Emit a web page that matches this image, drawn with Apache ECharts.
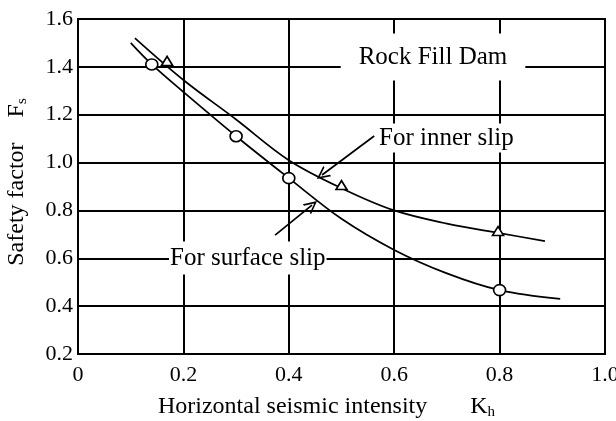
<!DOCTYPE html>
<html>
<head>
<meta charset="utf-8">
<script src="https://cdn.jsdelivr.net/npm/echarts@6/dist/echarts.min.js"></script>
<style>
    html, body { margin: 0; padding: 0; background: #fff; }
    #chart { width: 616px; height: 421px; }
</style>
</head>
<body>
<div id="chart"></div>
<script>
// curves, [Kh, Fs]
var surfaceCurve = [[0.10, 1.50], [0.14, 1.41], [0.20, 1.295], [0.30, 1.11], [0.40, 0.935],
    [0.50, 0.765], [0.60, 0.635], [0.70, 0.537], [0.80, 0.467], [0.915, 0.43]];
var innerCurve = [[0.108, 1.52], [0.20, 1.345], [0.30, 1.18], [0.40, 1.01], [0.50, 0.893],
    [0.60, 0.80], [0.70, 0.745], [0.80, 0.705], [0.886, 0.672]];

// measured points
var surfacePoints = [[0.14, 1.41], [0.30, 1.11], [0.40, 0.935], [0.80, 0.467]];
var innerPoints = [[0.169, 1.425], [0.50, 0.906], [0.797, 0.714]];

// leader arrows [from, to]
var innerArrow = [[0.562, 1.111], [0.463, 0.948]];
var surfaceArrow = [[0.374, 0.697], [0.444, 0.822]];

var xTicks = [0, 0.2, 0.4, 0.6, 0.8, 1.0];
var yTicks = [0.2, 0.4, 0.6, 0.8, 1.0, 1.2, 1.4, 1.6];

var FONT = "'Liberation Serif','Times New Roman',serif";
var ARROW = 'path://M0,0L6,12L4.3,12L0,3.4L-4.3,12L-6,12Z';

var chart = echarts.init(document.getElementById('chart'));

function arrowLine(pts) {
    return [[{ coord: pts[0] }, { coord: pts[1] }]];
}

var option = {
    animation: false,
    textStyle: { fontFamily: FONT, color: '#000' },
    grid: {
        left: 78,
        right: 11,
        top: 19,
        bottom: 67,
        outerBoundsMode: 'none',
        containLabel: false,
        show: true,
        borderColor: '#000',
        borderWidth: 2
    },
    xAxis: {
        type: 'value',
        min: xTicks[0],
        max: xTicks[xTicks.length - 1],
        interval: 0.2,
        name: '{a|Horizontal seismic intensity}{g|}{a|K}{b|h}',
        nameLocation: 'middle',
        nameGap: 40,
        nameTextStyle: {
            padding: [0, 30, 0, 0],
            rich: {
                a: { fontFamily: FONT, fontSize: 24, color: '#000', lineHeight: 26 },
                g: { width: 43 },
                b: { fontFamily: FONT, fontSize: 15, color: '#000', lineHeight: 15, verticalAlign: 'bottom' }
            }
        },
        axisLine: { lineStyle: { color: '#000', width: 2 } },
        axisTick: { show: false },
        axisLabel: {
            fontFamily: FONT,
            fontSize: 22,
            color: '#000',
            margin: 10,
            formatter: function (v) {
                return v === 0 ? '0' : v.toFixed(1);
            }
        },
        splitLine: { lineStyle: { color: '#000', width: 2 } }
    },
    yAxis: {
        type: 'value',
        min: yTicks[0],
        max: yTicks[yTicks.length - 1],
        interval: 0.2,
        name: '{a|Safety factor}{g|}{a|F}{b|s}',
        nameLocation: 'middle',
        nameRotate: 90,
        nameGap: 48,
        nameTextStyle: {
            padding: [0, 0, 0, 9],
            rich: {
                a: { fontFamily: FONT, fontSize: 24, color: '#000', lineHeight: 26 },
                g: { width: 25 },
                b: { fontFamily: FONT, fontSize: 15, color: '#000', lineHeight: 15, verticalAlign: 'bottom' }
            }
        },
        axisLine: { lineStyle: { color: '#000', width: 2 } },
        axisTick: { show: false },
        axisLabel: {
            fontFamily: FONT,
            fontSize: 22,
            color: '#000',
            margin: 5,
            formatter: function (v) {
                return v.toFixed(1);
            }
        },
        splitLine: { lineStyle: { color: '#000', width: 2 } }
    },
    series: [
        {
            name: 'For surface slip',
            type: 'line',
            data: surfaceCurve,
            smooth: 0.35,
            showSymbol: false,
            lineStyle: { color: '#000', width: 1.7 },
            markLine: {
                silent: true,
                symbol: ['none', ARROW],
                symbolSize: [13, 13],
                label: { show: false },
                lineStyle: { color: '#000', width: 1.7, type: 'solid' },
                data: arrowLine(surfaceArrow)
            }
        },
        {
            name: 'For inner slip',
            type: 'line',
            data: innerCurve,
            smooth: 0.35,
            showSymbol: false,
            lineStyle: { color: '#000', width: 1.7 },
            markLine: {
                silent: true,
                symbol: ['none', ARROW],
                symbolSize: [13, 13],
                label: { show: false },
                lineStyle: { color: '#000', width: 1.7, type: 'solid' },
                data: arrowLine(innerArrow)
            }
        },
        {
            name: 'surface points',
            type: 'scatter',
            data: surfacePoints,
            symbol: 'circle',
            symbolSize: [12, 11],
            itemStyle: { color: '#fff', borderColor: '#000', borderWidth: 1.6, opacity: 1 },
            z: 5
        },
        {
            name: 'inner points',
            type: 'scatter',
            data: innerPoints,
            symbol: 'triangle',
            symbolSize: [11, 9],
            itemStyle: { color: '#fff', borderColor: '#000', borderWidth: 1.6, opacity: 1 },
            z: 5
        }
    ],
    graphic: [
        {
            type: 'text',
            z: 100,
            x: 433,
            y: 57,
            style: {
                text: 'Rock Fill Dam',
                font: '25px ' + FONT,
                fill: '#000',
                align: 'center',
                verticalAlign: 'middle',
                backgroundColor: '#fff',
                padding: [11, 18]
            }
        },
        {
            type: 'text',
            z: 100,
            x: 377,
            y: 138,
            style: {
                text: 'For inner slip',
                font: '25px ' + FONT,
                fill: '#000',
                align: 'left',
                verticalAlign: 'middle',
                backgroundColor: '#fff',
                padding: [2, 2]
            }
        },
        {
            type: 'text',
            z: 100,
            x: 169,
            y: 258,
            style: {
                text: 'For surface slip',
                font: '25px ' + FONT,
                fill: '#000',
                align: 'left',
                verticalAlign: 'middle',
                backgroundColor: '#fff',
                padding: [4, 1]
            }
        }
    ]
};

chart.setOption(option);
</script>
</body>
</html>
